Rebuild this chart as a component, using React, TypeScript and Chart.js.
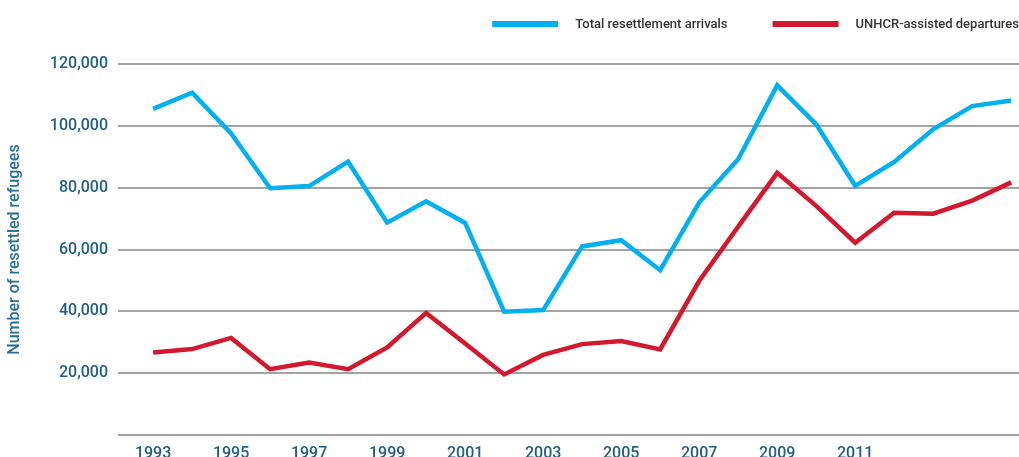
import React, { useEffect, useRef } from "react";
import { Chart, registerables } from "chart.js";

Chart.register(...registerables);

const years = [1993, 1994, 1995, 1996, 1997, 1998, 1999, 2000, 2001, 2002, 2003, 2004, 2005, 2006, 2007, 2008, 2009, 2010, 2011, 2012, 2013, 2014, 2015];
const totalArrivals = [105500, 110700, 97500, 79800, 80500, 88400, 68700, 75600, 68600, 39900, 40400, 61000, 63000, 53300, 75200, 89200, 113100, 100500, 80600, 88300, 98900, 106400, 108200];
const unhcrDepartures = [26700, 27800, 31400, 21300, 23400, 21300, 28300, 39500, 29600, 19600, 25900, 29400, 30400, 27700, 49800, 67400, 84800, 74100, 62200, 71900, 71600, 75800, 81700];
const xTickYears = [1993, 1995, 1997, 1999, 2001, 2003, 2005, 2007, 2009, 2011];
const seriesNames = ["Total resettlement arrivals", "UNHCR-assisted departures"];
const seriesColors = ["#00b0ef", "#d2192d"];
const yAxisTitle = "Number of resettled refugees";

const FONT = "Roboto, 'Open Sans', sans-serif";
const TEAL = "#1f5f86";

const legendPlugin = {
  id: "customLegend",
  afterDraw(chart: any) {
    const ctx = chart.ctx;
    const sets = chart.data.datasets;
    ctx.save();
    ctx.font = `500 13px ${FONT}`;
    ctx.textBaseline = "middle";
    ctx.textAlign = "left";
    const y = 24;
    const boxW = 66;
    const gapBoxText = 17;
    const gapItems = 45;
    let right = chart.width;
    const items: any[] = [];
    for (let i = sets.length - 1; i >= 0; i--) {
      const w = ctx.measureText(sets[i].label).width;
      const textX = right - w;
      const boxEnd = textX - gapBoxText;
      const boxStart = boxEnd - boxW;
      items.push({ label: sets[i].label, color: sets[i].borderColor, textX, boxStart, boxEnd });
      right = boxStart - gapItems;
    }
    for (const it of items) {
      ctx.strokeStyle = it.color;
      ctx.lineWidth = 6;
      ctx.lineCap = "butt";
      ctx.beginPath();
      ctx.moveTo(it.boxStart, y);
      ctx.lineTo(it.boxEnd, y);
      ctx.stroke();
      ctx.fillStyle = "#333333";
      ctx.fillText(it.label, it.textX, y + 0.5);
    }
    ctx.restore();
  },
};

export default function App() {
  const ref = useRef<HTMLCanvasElement>(null);
  useEffect(() => {
    if (!ref.current) return;
    const chart = new Chart(ref.current, {
      type: "line",
      data: {
        datasets: [
          {
            label: seriesNames[0],
            data: years.map((yr, i) => ({ x: yr, y: totalArrivals[i] })),
            borderColor: seriesColors[0],
            backgroundColor: seriesColors[0],
            borderWidth: 4.5,
            pointRadius: 0,
            tension: 0,
            borderJoinStyle: "miter",
            clip: false,
          },
          {
            label: seriesNames[1],
            data: years.map((yr, i) => ({ x: yr, y: unhcrDepartures[i] })),
            borderColor: seriesColors[1],
            backgroundColor: seriesColors[1],
            borderWidth: 4.5,
            pointRadius: 0,
            tension: 0,
            borderJoinStyle: "miter",
            clip: false,
          },
        ],
      },
      options: {
        animation: false,
        responsive: false,
        maintainAspectRatio: false,
        layout: { padding: { top: 64, left: 0, right: 0, bottom: 0 } },
        plugins: {
          legend: { display: false },
          tooltip: { enabled: false },
        },
        scales: {
          x: {
            type: "linear",
            min: 1992.1,
            max: 2015.2,
            grid: { display: false, drawTicks: false },
            border: { display: false },
            afterBuildTicks: (scale: any) => {
              scale.ticks = xTickYears.map((v) => ({ value: v }));
            },
            afterFit: (scale: any) => {
              scale.height = 22;
            },
            ticks: {
              autoSkip: false,
              maxRotation: 0,
              padding: 9,
              color: TEAL,
              font: { family: FONT, size: 16, weight: "500" },
              callback: (v: any) => String(v),
            },
          },
          y: {
            min: 0,
            max: 120000,
            afterFit: (scale: any) => {
              scale.width = 118;
            },
            grid: { color: "#a3a3a3", lineWidth: 2, drawTicks: false },
            border: { display: false },
            ticks: {
              stepSize: 20000,
              padding: 10,
              color: TEAL,
              font: { family: FONT, size: 16, weight: "500" },
              callback: (v: any) => (v === 0 ? "" : Number(v).toLocaleString("en-US")),
            },
            title: {
              display: true,
              text: yAxisTitle,
              color: "#2a6d92",
              font: { family: FONT, size: 16, weight: "500" },
              padding: { top: 5, bottom: 0 },
            },
          },
        },
      },
      plugins: [legendPlugin],
    } as any);
    return () => chart.destroy();
  }, []);
  return (
    <div style={{ position: "fixed", left: 0, top: 0, width: 1019, height: 457, background: "#fff" }}>
      <canvas ref={ref} width={1019} height={457} style={{ display: "block" }} />
    </div>
  );
}
